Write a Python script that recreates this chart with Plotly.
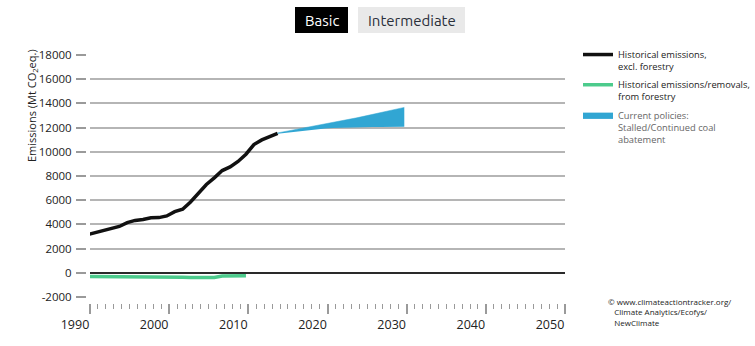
import plotly.graph_objects as go

W, H = 755, 346

# ---------------- data ----------------
hist_years = list(range(1990, 2015))
hist_excl_forestry = [3150, 3320, 3480, 3650, 3830, 4150, 4330, 4400, 4550, 4560,
                      4700, 5050, 5250, 5850, 6600, 7300, 7850, 8450, 8750, 9200,
                      9800, 10600, 10980, 11250, 11520]

forestry_years = list(range(1990, 2011))
forestry = [-300, -300, -300, -300, -300, -310, -310, -310, -310, -320,
            -320, -340, -370, -390, -390, -390, -380, -270, -250, -250, -250]

proj_years = list(range(2014, 2031))
proj_upper = [11560, 11680, 11800, 11920, 12040, 12160, 12290, 12420, 12550,
              12680, 12810, 12950, 13090, 13230, 13380, 13520, 13670]
proj_lower = [11500, 11580, 11660, 11740, 11810, 11870, 11920, 11960, 11990,
              12010, 12030, 12040, 12050, 12050, 12060, 12060, 12060]

x_tick_years = [1990, 2000, 2010, 2020, 2030, 2040, 2050]
y_tick_vals = [-2000, 0, 2000, 4000, 6000, 8000, 10000, 12000, 14000, 16000, 18000]

# ---------------- layout helpers ----------------
XOFF = 0.3                      # axis offset of the original chart
ML, MR, MT, MB = 86, 190, 55, 43
PW, PH = W - ML - MR, H - MT - MB


def px(x):
    return (x - ML) / PW


def py(y):
    return (H - MB - y) / PH


FONT = "Open Sans"

fig = go.Figure()

fig.add_trace(go.Scatter(
    x=hist_years, y=hist_excl_forestry, mode="lines",
    line=dict(color="#111111", width=3.5), legendgroup="a",
    name="Historical emissions,<br>excl. forestry"))

fig.add_trace(go.Scatter(
    x=forestry_years, y=forestry, mode="lines",
    line=dict(color="#4ccb8c", width=3.5), legendgroup="b",
    name="Historical emissions/removals,<br>from forestry"))

fig.add_trace(go.Scatter(
    x=proj_years, y=proj_lower, mode="lines", legendgroup="c",
    line=dict(color="#31a6d3", width=0), showlegend=False, hoverinfo="skip"))

fig.add_trace(go.Scatter(
    x=proj_years, y=proj_upper, mode="lines", fill="tonexty", legendgroup="c",
    fillcolor="#31a6d3", line=dict(color="#31a6d3", width=0.5),
    name='<span style="color:#666666">Current policies:<br>Stalled/Continued coal<br>abatement</span>'))

fig.update_layout(
    width=W, height=H,
    margin=dict(l=ML, r=MR, t=MT, b=MB),
    paper_bgcolor="white", plot_bgcolor="white",
    font=dict(family=FONT, color="#222222"),
    showlegend=True,
    legend=dict(
        xref="container", yref="container",
        x=578 / W, y=1 - 42 / H, xanchor="left", yanchor="top",
        font=dict(size=9.3, color="#222222", family=FONT),
        itemwidth=30, traceorder="grouped", tracegroupgap=3, valign="top",
        bgcolor="rgba(0,0,0,0)"),
    xaxis=dict(
        range=[1990 + XOFF, 2050 + XOFF],
        domain=[4 / PW, 1],
        anchor="free", position=0,
        showgrid=False, zeroline=False, showline=False,
        tickmode="array",
        tickvals=[t + XOFF for t in x_tick_years],
        ticktext=[str(t) for t in x_tick_years],
        ticks="outside", ticklen=10, tickwidth=1.5, tickcolor="#9a9a9a",
        ticklabelshift=-15,
        tickfont=dict(size=12.5, color="#222222", family=FONT),
        minor=dict(ticks="outside", tick0=1990 + XOFF, dtick=1,
                   ticklen=5, tickwidth=1, tickcolor="#9a9a9a"),
    ),
    yaxis=dict(
        range=[-2000, 18000],
        domain=[6 / PH, 1],
        anchor="free", position=0,
        tickmode="array", tickvals=y_tick_vals,
        ticktext=[str(v) for v in y_tick_vals],
        showgrid=True, gridcolor="#b5b5b5", gridwidth=1.5,
        zeroline=True, zerolinecolor="#2a2a2a", zerolinewidth=2.2,
        showline=False,
        ticks="outside", ticklen=10, tickwidth=1.5, tickcolor="#9a9a9a",
        ticklabelstandoff=2,
        tickfont=dict(size=11.5, color="#222222", family=FONT),
    ),
)

# y axis title
fig.add_annotation(
    x=px(32), y=py(106), xref="paper", yref="paper",
    text="Emissions (Mt CO<sub>2</sub>eq.)", textangle=-90, showarrow=False,
    font=dict(size=11, color="#222222", family=FONT),
    xanchor="center", yanchor="middle")

# toggle buttons
fig.add_shape(type="rect", xref="paper", yref="paper",
              x0=px(295), x1=px(348), y0=py(33), y1=py(7),
              fillcolor="#000000", line=dict(width=0))
fig.add_shape(type="rect", xref="paper", yref="paper",
              x0=px(358), x1=px(465), y0=py(33), y1=py(7),
              fillcolor="#e9e9e9", line=dict(width=0))
fig.add_annotation(x=px(321.5), y=py(20), xref="paper", yref="paper",
                   text="Basic", showarrow=False,
                   font=dict(size=15, color="#ffffff", family="Ubuntu, " + FONT),
                   xanchor="center", yanchor="middle")
fig.add_annotation(x=px(411.5), y=py(20), xref="paper", yref="paper",
                   text="Intermediate", showarrow=False,
                   font=dict(size=15, color="#2a2f3a", family="Ubuntu, " + FONT),
                   xanchor="center", yanchor="middle")

# source note
fig.add_annotation(x=px(606), y=py(312), xref="paper", yref="paper",
                   text="© www.climateactiontracker.org/<br>"
                        "&nbsp;&nbsp;&nbsp;Climate Analytics/Ecofys/<br>"
                        "&nbsp;&nbsp;&nbsp;NewClimate",
                   showarrow=False, align="left",
                   font=dict(size=8, color="#222222", family=FONT),
                   xanchor="left", yanchor="middle")

fig.write_html("out.html")
